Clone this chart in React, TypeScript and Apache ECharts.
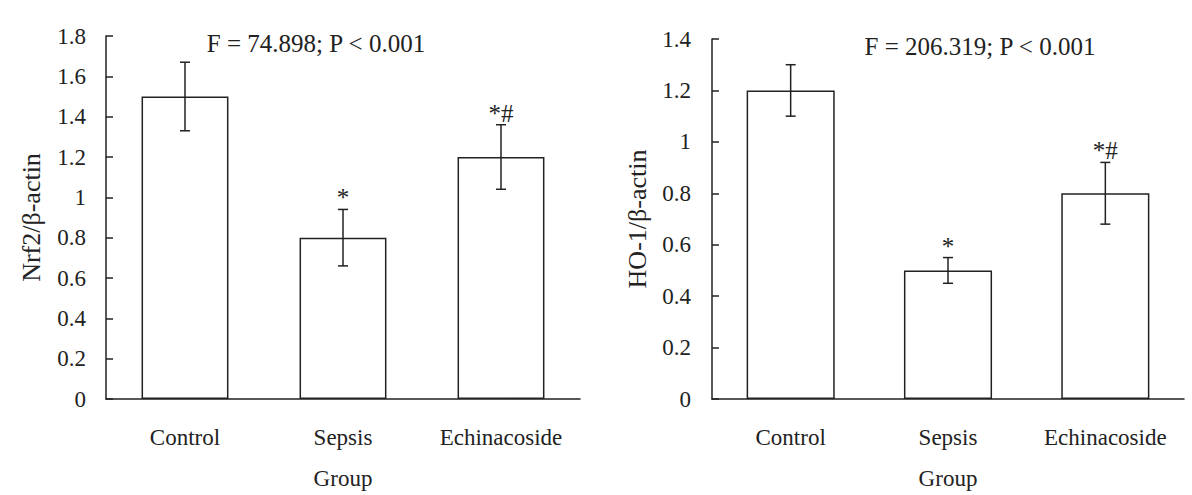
import React, { useEffect, useRef } from "react";
import * as echarts from "echarts";

const categories = ["Control", "Sepsis", "Echinacoside"];
const nrf2Values = [1.5, 0.8, 1.2];
const nrf2Low = [1.33, 0.66, 1.04];
const nrf2High = [1.67, 0.94, 1.36];
const ho1Values = [1.2, 0.5, 0.8];
const ho1Low = [1.1, 0.45, 0.68];
const ho1High = [1.3, 0.55, 0.92];
const markers = ["", "*", "*#"];
const nrf2Title = "F = 74.898; P < 0.001";
const ho1Title = "F = 206.319; P < 0.001";
const nrf2Max = 1.8;
const ho1Max = 1.4;
const tickStep = 0.2;

const FONT = "Liberation Serif, serif";
const INK = "#222";

function errorSeries(axisIndex: number, low: number[], high: number[]) {
  return {
    type: "custom",
    xAxisIndex: axisIndex,
    yAxisIndex: axisIndex,
    z: 5,
    data: low.map((l, i) => [i, l, high[i]]),
    encode: { x: 0, y: [1, 2] },
    renderItem: (params: any, api: any) => {
      const idx = api.value(0);
      const top = api.coord([idx, api.value(2)]);
      const bot = api.coord([idx, api.value(1)]);
      const half = 5;
      const ls = { stroke: INK, lineWidth: 1.5 };
      const children: any[] = [
        { type: "line", shape: { x1: top[0], y1: top[1], x2: bot[0], y2: bot[1] }, style: ls },
        { type: "line", shape: { x1: top[0] - half, y1: top[1], x2: top[0] + half, y2: top[1] }, style: ls },
        { type: "line", shape: { x1: bot[0] - half, y1: bot[1], x2: bot[0] + half, y2: bot[1] }, style: ls },
      ];
      const m = markers[params.dataIndex];
      if (m) {
        children.push({
          type: "text",
          x: top[0],
          y: top[1] + 1,
          style: {
            text: m,
            fill: INK,
            fontFamily: FONT,
            fontSize: 25,
            align: "center",
            verticalAlign: "bottom",
          },
        });
      }
      return { type: "group", children };
    },
  };
}

export default function App() {
  const ref = useRef<HTMLDivElement>(null);
  useEffect(() => {
    if (!ref.current) return;
    const chart = echarts.init(ref.current, null, { renderer: "svg" });
    const axisLine = { lineStyle: { color: INK, width: 1.5 } };
    const xAxisCommon = (gridIndex: number) => ({
      type: "category",
      gridIndex,
      data: categories,
      boundaryGap: true,
      axisLine,
      axisTick: { inside: true, length: 6, lineStyle: { color: INK, width: 1.5 } },
      axisLabel: { color: INK, fontFamily: FONT, fontSize: 23, margin: 27, interval: 0, hideOverlap: false },
      splitLine: { show: false },
      name: "Group",
      nameLocation: "middle",
      nameGap: 68,
      nameTextStyle: { color: INK, fontFamily: FONT, fontSize: 23 },
    });
    const yAxisCommon = (gridIndex: number, max: number, name: string, margin: number) => ({
      type: "value",
      gridIndex,
      min: 0,
      max,
      interval: tickStep,
      axisLine: { show: true, ...axisLine },
      axisTick: { show: true, inside: true, length: 7, lineStyle: { color: INK, width: 1.5 } },
      axisLabel: { color: INK, fontFamily: FONT, fontSize: 23, margin },
      splitLine: { show: false },
      name,
      nameLocation: "middle",
      nameGap: 62,
      nameTextStyle: { color: INK, fontFamily: FONT, fontSize: 26 },
    });
    const barStyle = { color: "#fff", borderColor: INK, borderWidth: 1.5 };
    chart.setOption({
      animation: false,
      backgroundColor: "#fff",
      textStyle: { fontFamily: FONT },
      grid: [
        { left: 106, top: 36, width: 474, height: 363 },
        { left: 712, top: 39, width: 472, height: 362 },
      ],
      xAxis: [xAxisCommon(0), xAxisCommon(1)],
      yAxis: [
        yAxisCommon(0, nrf2Max, "Nrf2/β-actin", 20),
        yAxisCommon(1, ho1Max, "HO-1/β-actin", 21),
      ],
      graphic: [
        {
          type: "text",
          x: 316,
          y: 43,
          style: { text: nrf2Title, fill: INK, fontFamily: FONT, fontSize: 25, align: "center", verticalAlign: "middle" },
        },
        {
          type: "text",
          x: 980,
          y: 46,
          style: { text: ho1Title, fill: INK, fontFamily: FONT, fontSize: 25, align: "center", verticalAlign: "middle" },
        },
      ],
      series: [
        { type: "bar", xAxisIndex: 0, yAxisIndex: 0, data: nrf2Values, barWidth: "55%", itemStyle: barStyle },
        errorSeries(0, nrf2Low, nrf2High),
        { type: "bar", xAxisIndex: 1, yAxisIndex: 1, data: ho1Values, barWidth: "56%", itemStyle: barStyle },
        errorSeries(1, ho1Low, ho1High),
      ],
    });
    return () => chart.dispose();
  }, []);
  return (
    <div
      ref={ref}
      style={{ position: "fixed", left: 0, top: 0, width: 1192, height: 495, background: "#fff" }}
    />
  );
}
